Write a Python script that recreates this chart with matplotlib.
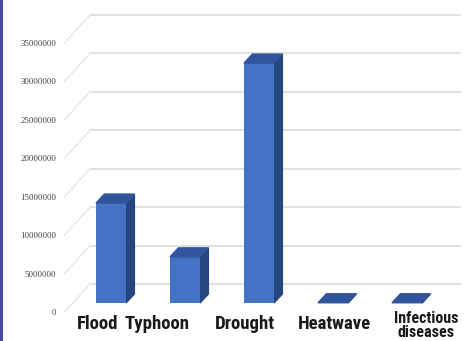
import matplotlib
matplotlib.use("Agg")
import matplotlib.pyplot as plt
from matplotlib.patches import Polygon, Rectangle
from matplotlib import font_manager

# data
categories = ['Flood', 'Typhoon', 'Drought', 'Heatwave', 'Infectious\ndiseases']
values = [13000000, 6000000, 31200000, 30000, 30000]
yticks = [0, 5000000, 10000000, 15000000, 20000000, 25000000, 30000000, 35000000]

# layout of the oblique "3d" view
W, H, DPI = 472, 341, 100
X0_PX, STEP_PX = 101.7, 74.0      # category 0 position / spacing on the front plane
Y0_PX, K = 313.0, 7.69e-6         # value 0 on the front plane / px per unit
DEPTH_PX = (27.0, 29.0)           # full floor depth shift (right, up)
DX = DEPTH_PX[0] / STEP_PX
DV = DEPTH_PX[1] / K
BAR_D0, BAR_D1 = 0.345, 0.655     # bar front / back depth
BAR_W = 30.0 / STEP_PX
WALL_X = (63.0 - X0_PX) / STEP_PX
GRID_END = (460.0 - X0_PX) / STEP_PX
label_x = [-0.05, 0.747, 1.936, 3.139, 4.382]

front_col = '#4472c4'
top_col = '#30559c'
side_col = '#27457e'

names = {f.name for f in font_manager.fontManager.ttflist}
narrow = next((f for f in ['Liberation Sans Narrow', 'Roboto Condensed', 'DejaVu Sans']
               if f in names), 'DejaVu Sans')

fig = plt.figure(figsize=(W / DPI, H / DPI), dpi=DPI)
ax = fig.add_axes([0, 0, 1, 1])
ax.set_xlim(-X0_PX / STEP_PX, (W - X0_PX) / STEP_PX)
ax.set_ylim((Y0_PX - H) / K, Y0_PX / K)
ax.axis('off')

# back wall gridlines + side wall diagonals
for t in yticks:
    ax.plot([WALL_X + DX, GRID_END], [t + DV, t + DV], color='#e0e0e0', lw=1.5, zorder=1)
    ax.plot([WALL_X + 0.02, WALL_X + DX], [t + 0.03 * DV, t + DV], color='#e8e8e8', lw=1.1, zorder=1)
    ax.text((56 - X0_PX) / STEP_PX, t, str(t), ha='right', va='center',
            fontsize=6.3, color='#404040', family='Liberation Serif', fontstretch='condensed')

# bars: front face via ax.bar, top and side faces as polygons
xs = [i + BAR_D0 * DX for i in range(len(values))]
ax.bar(xs, values, width=BAR_W, bottom=BAR_D0 * DV, color=front_col, zorder=3)
dd = BAR_D1 - BAR_D0
for x, v in zip(xs, values):
    l, r = x - BAR_W / 2, x + BAR_W / 2
    b, t = BAR_D0 * DV, BAR_D0 * DV + v
    top = [(l, t), (r, t), (r + dd * DX, t + dd * DV), (l + dd * DX, t + dd * DV)]
    side = [(r, b), (r + dd * DX, b + dd * DV), (r + dd * DX, t + dd * DV), (r, t)]
    ax.add_patch(Polygon(side, closed=True, color=side_col, zorder=2))
    ax.add_patch(Polygon(top, closed=True, color=top_col, zorder=4))

# category labels
for lx, name in zip(label_x, categories):
    two = '\n' in name
    ax.text(lx, (Y0_PX - (311 if two else 315)) / K, name, ha='center', va='top',
            fontsize=11.5 if two else 13.5, family=narrow, weight='semibold',
            color='#1a1a1a', linespacing=0.95)

# dark strip on the left edge
fig.add_artist(Rectangle((0, 0), 3.0 / W, 1, transform=fig.transFigure,
                         color='#4a4a9a', lw=0))

fig.savefig('out.png', dpi=DPI)
